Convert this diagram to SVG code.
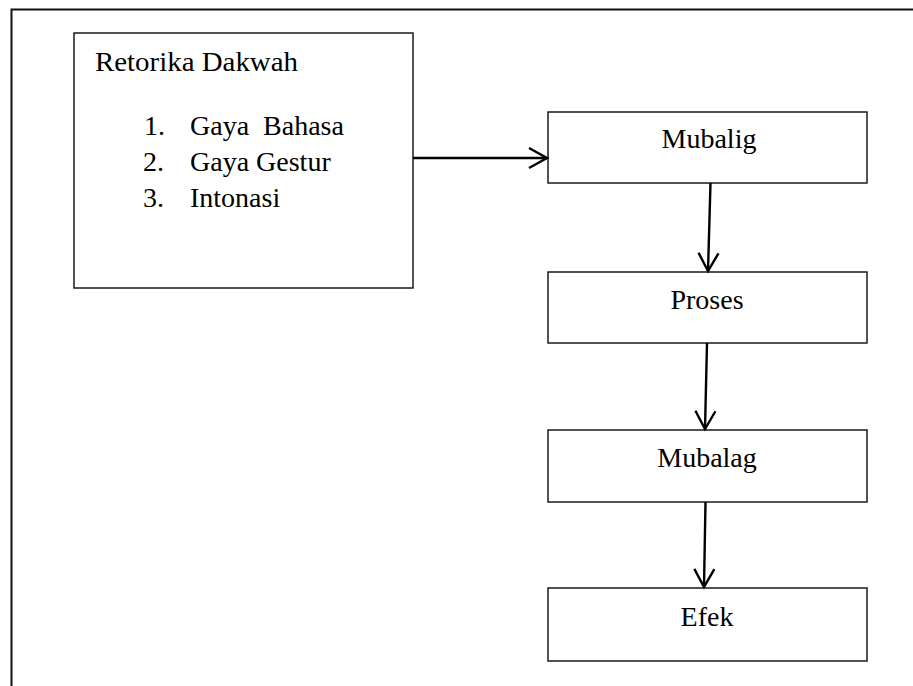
<svg xmlns="http://www.w3.org/2000/svg" width="913" height="686" viewBox="0 0 913 686">
<style>
.box{fill:#fff;stroke:#1a1a1a;stroke-width:1.5}
.t{font-family:"Liberation Serif","Times New Roman",serif;font-size:28px;fill:#000;white-space:pre}
.c{text-anchor:middle}
.con{fill:none;stroke:#000;stroke-width:2.4}
</style>
<defs>
<marker id="arr" markerUnits="userSpaceOnUse" markerWidth="24" markerHeight="26" refX="20" refY="12" orient="auto" viewBox="0 0 24 24">
<path d="M2,2 L20,12 L2,22" fill="none" stroke="#000" stroke-width="2.4"/>
</marker>
</defs>
<rect width="913" height="686" fill="#fff"/>
<path d="M11.5,700 V9.5 H920" fill="none" stroke="#111" stroke-width="2"/>
<g id="retorika">
<rect class="box" x="74" y="33" width="339" height="255"/>
<text class="t" x="95" y="71" textLength="203" lengthAdjust="spacingAndGlyphs">Retorika Dakwah</text>
<text class="t" x="144" y="135">1.</text>
<text class="t" x="190" y="135">Gaya  Bahasa</text>
<text class="t" x="143" y="171">2.</text>
<text class="t" x="190" y="171">Gaya Gestur</text>
<text class="t" x="143" y="207">3.</text>
<text class="t" x="190" y="207">Intonasi</text>
</g>
<g id="mubalig">
<rect class="box" x="548" y="112" width="319" height="71"/>
<text class="t c" x="709" y="148">Mubalig</text>
</g>
<g id="proses">
<rect class="box" x="548" y="272" width="319" height="71"/>
<text class="t c" x="707" y="309">Proses</text>
</g>
<g id="mubalag">
<rect class="box" x="548" y="430" width="319" height="72"/>
<text class="t c" x="707" y="467">Mubalag</text>
</g>
<g id="efek">
<rect class="box" x="548" y="588" width="319" height="73"/>
<text class="t c" x="707" y="626">Efek</text>
</g>
<g id="connectors">
<path class="con" d="M413,158 H547" marker-end="url(#arr)"/>
<path class="con" d="M710.5,183 L708,271" marker-end="url(#arr)"/>
<path class="con" d="M707,343 L705,429" marker-end="url(#arr)"/>
<path class="con" d="M705.5,502 L704,587" marker-end="url(#arr)"/>
</g>
</svg>
